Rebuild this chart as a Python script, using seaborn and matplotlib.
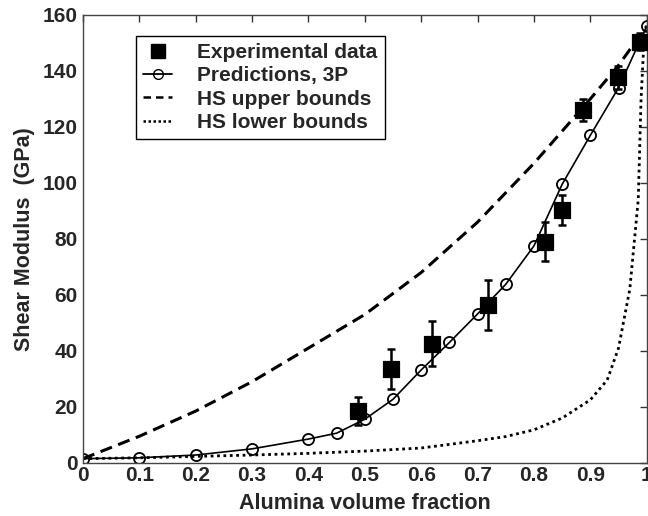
import numpy as np
import pandas as pd
import matplotlib
matplotlib.use('Agg')
import matplotlib.pyplot as plt
from matplotlib.lines import Line2D
import seaborn as sns

# experimental data (square markers with error bars)
exp_x = [0.488, 0.547, 0.619, 0.719, 0.819, 0.849, 0.887, 0.949, 0.988]
exp_y = [18.6, 33.5, 42.5, 56.4, 79.0, 90.4, 126.0, 137.7, 150.5]
exp_err = [5.0, 7.0, 8.0, 9.0, 7.0, 5.3, 4.0, 4.0, 3.0]

# 3P model predictions
pred_x = [0, 0.1, 0.2, 0.3, 0.4, 0.45, 0.5, 0.55, 0.6, 0.65, 0.7, 0.75, 0.8, 0.85, 0.9, 0.95, 1.0]
pred_y = [1.5, 1.8, 2.8, 5.0, 8.5, 10.6, 15.6, 22.7, 33.2, 43.0, 53.2, 63.8, 77.5, 99.5, 117.0, 134.0, 156.0]

# Hashin-Shtrikman bounds
hs_up_x = [0, 0.1, 0.2, 0.3, 0.4, 0.5, 0.6, 0.7, 0.8, 0.9, 0.95, 1.0]
hs_up_y = [1.5, 9.5, 18.5, 29.0, 41.0, 53.0, 68.0, 86.0, 107.0, 130.0, 142.0, 156.0]
hs_lo_x = [0, 0.1, 0.2, 0.3, 0.4, 0.5, 0.6, 0.7, 0.75, 0.8, 0.85, 0.9, 0.93, 0.95, 0.97, 0.985, 0.99, 0.995, 1.0]
hs_lo_y = [1.5, 1.8, 2.3, 2.8, 3.4, 4.2, 5.3, 7.9, 9.4, 11.8, 16.0, 22.5, 29.6, 41.0, 62.0, 94.0, 130.0, 150.0, 156.0]

sns.set_style('white')
plt.rcParams['font.family'] = ['Liberation Sans', 'DejaVu Sans']
plt.rcParams['font.weight'] = 'bold'

fig = plt.figure(figsize=(6.48, 5.16), dpi=100)
ax = fig.add_axes([0.128, 0.103, 0.870, 0.868])

up = pd.DataFrame({'x': hs_up_x, 'y': hs_up_y})
lo = pd.DataFrame({'x': hs_lo_x, 'y': hs_lo_y})
pr = pd.DataFrame({'x': pred_x, 'y': pred_y})
ex = pd.DataFrame({'x': exp_x, 'y': exp_y})

sns.lineplot(data=up, x='x', y='y', ax=ax, color='black', lw=2.2,
             estimator=None)
ax.lines[-1].set_dashes([4, 2.2])
sns.lineplot(data=lo, x='x', y='y', ax=ax, color='black', lw=2.0,
             estimator=None)
ax.lines[-1].set_dashes([1, 1.3])
sns.lineplot(data=pr, x='x', y='y', ax=ax, color='black', lw=1.2,
             marker='o', markersize=8, markerfacecolor='none',
             markeredgecolor='black', markeredgewidth=1.3, estimator=None)
ax.errorbar(exp_x, exp_y, yerr=exp_err, fmt='none', ecolor='black',
            elinewidth=1.8, capsize=3, capthick=1.8, zorder=4)
sns.scatterplot(data=ex, x='x', y='y', ax=ax, marker='s', s=120,
                color='black', edgecolor='black', zorder=5)

ax.set_xlim(0, 1)
ax.set_ylim(0, 160)
ax.set_xticks(np.arange(0, 1.01, 0.1))
ax.set_xticklabels(['0', '0.1', '0.2', '0.3', '0.4', '0.5', '0.6', '0.7', '0.8', '0.9', '1'])
ax.set_yticks(np.arange(0, 161, 20))
ax.tick_params(direction='in', length=5, width=1, top=True, right=True,
               labelsize=15, pad=2, color='#333333')
ax.tick_params(axis='y', pad=4)
for lab in ax.get_xticklabels() + ax.get_yticklabels():
    lab.set_fontweight('bold')
for s in ax.spines.values():
    s.set_color('#444444')
    s.set_linewidth(1.0)

ax.set_xlabel('Alumina volume fraction', fontsize=15.5, fontweight='bold', labelpad=6)
ax.set_ylabel('Shear Modulus  (GPa)', fontsize=15.5, fontweight='bold', labelpad=5)

handles = [
    Line2D([], [], color='black', marker='s', markersize=10, linestyle='none'),
    Line2D([], [], color='black', lw=1.3, marker='o', markersize=7,
           markerfacecolor='none'),
    Line2D([], [], color='black', lw=1.8, dashes=[3, 2]),
    Line2D([], [], color='black', lw=1.8, dashes=[1, 1]),
]
labels = ['Experimental data', 'Predictions, 3P', 'HS upper bounds', 'HS lower bounds']
leg = ax.legend(handles, labels, loc='upper left', bbox_to_anchor=(0.094, 0.953),
                borderaxespad=0, fancybox=False, framealpha=1, edgecolor='black',
                handlelength=1.4, handletextpad=1.2, borderpad=0.35,
                labelspacing=0.2, prop={'weight': 'bold', 'size': 15})
leg.get_frame().set_linewidth(1.0)

fig.savefig('out.png', dpi=100)
